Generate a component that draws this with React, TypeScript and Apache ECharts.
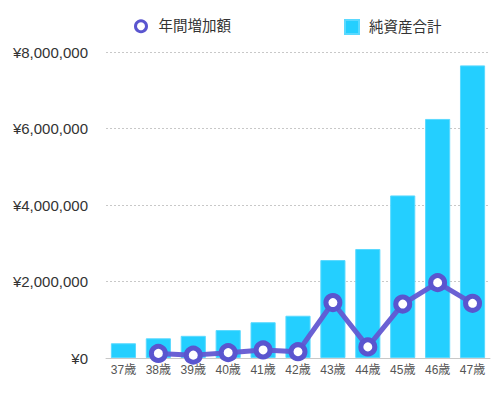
import React, { useEffect, useRef } from "react";
import * as echarts from "echarts";

const categories = ["37歳", "38歳", "39歳", "40歳", "41歳", "42歳", "43歳", "44歳", "45歳", "46歳", "47歳"];
const netAssets = [385000, 515000, 580000, 730000, 935000, 1105000, 2560000, 2850000, 4250000, 6250000, 7650000];
const annualIncrease: (number | string)[] = ["-", 120000, 75000, 140000, 210000, 165000, 1450000, 290000, 1410000, 1970000, 1430000];
const yTicks = [0, 2000000, 4000000, 6000000, 8000000];

const LINE_NAME = "年間増加額";
const BAR_NAME = "純資産合計";
const FONT = "'Liberation Sans', 'Noto Sans CJK JP', sans-serif";
const LINE_COLOR = "#6359d2";
const MARK_COLOR = "#5a55cf";
const BAR_COLOR = "#24CFFF";

const fmt = (v: number) => "¥" + v.toLocaleString("en-US");

export default function App() {
  const ref = useRef<HTMLDivElement>(null);
  useEffect(() => {
    if (!ref.current) return;
    const chart = echarts.init(ref.current, undefined, { renderer: "svg" });
    chart.setOption({
      animation: false,
      backgroundColor: "#fff",
      legend: [
        {
          left: 134,
          top: 19,
          padding: 0,
          itemWidth: 11,
          itemHeight: 11,
          data: [{ name: LINE_NAME, icon: "circle", itemStyle: { color: "#fff", borderColor: MARK_COLOR, borderWidth: 3 } }],
          textStyle: { fontSize: 14.5, color: "#333", fontFamily: FONT, padding: [0, 0, 0, 7] },
        },
        {
          left: 344,
          top: 19,
          padding: 0,
          itemWidth: 14,
          itemHeight: 14,
          data: [{ name: BAR_NAME, icon: "rect" }],
          textStyle: { fontSize: 14.5, color: "#333", fontFamily: FONT, padding: [0, 0, 0, 5] },
        },
      ],
      grid: { left: 106, right: 10, top: 52, bottom: 36 },
      xAxis: {
        type: "category",
        data: categories,
        axisLine: { show: true, lineStyle: { color: "#c8c8c8", width: 1 } },
        axisTick: { show: false },
        axisLabel: { fontSize: 12, color: "#555", fontFamily: FONT, margin: 6 },
      },
      yAxis: {
        type: "value",
        min: yTicks[0],
        max: yTicks[yTicks.length - 1],
        interval: yTicks[1] - yTicks[0],
        axisLine: { show: false },
        axisTick: { show: false },
        splitLine: { lineStyle: { color: "#c8c8c8", type: [2, 2], width: 1 } },
        axisLabel: { fontSize: 15, color: "#333", fontFamily: FONT, margin: 18, formatter: (v: number) => fmt(v) },
      },
      series: [
        {
          name: BAR_NAME,
          type: "bar",
          data: netAssets,
          barWidth: "72%",
          itemStyle: { color: BAR_COLOR, borderColor: "#5ad9ff", borderWidth: 1 },
        },
        {
          name: LINE_NAME,
          type: "line",
          data: annualIncrease,
          symbol: "circle",
          symbolSize: 14,
          showAllSymbol: true,
          lineStyle: { color: LINE_COLOR, width: 5, opacity: 0.95 },
          itemStyle: { color: "#fff", borderColor: MARK_COLOR, borderWidth: 5 },
          z: 3,
        },
      ],
    });
    return () => chart.dispose();
  }, []);
  return <div ref={ref} style={{ width: 500, height: 394, position: "absolute", left: 0, top: 0 }} />;
}
